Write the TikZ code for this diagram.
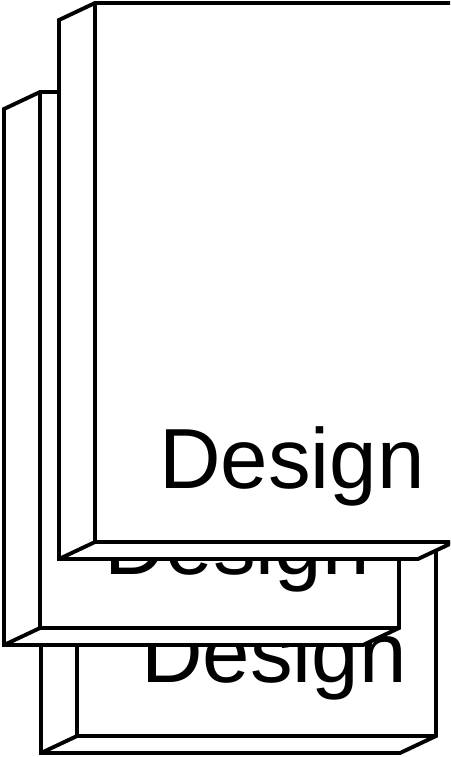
\documentclass[tikz,border=0pt]{standalone}
\usepackage{fontspec}
\setmainfont{Liberation Sans}
\usetikzlibrary{calc}

% one slab: name, left of front face, top, bottom
\newcommand{\designslab}[4]{%
  \filldraw[edge, fill=white] (#2,#3) -- (#2-36,#3+17) -- (#2-36,#4+17)
    -- (#2+323,#4+17) -- (#2+359,#4) -- (#2+359,#3) -- cycle;
  \draw[edge] (#2,#3) -- (#2,#4) -- (#2+359,#4);
  \draw[edge] (#2,#4) -- (#2-36,#4+17);
  \node[slabtext] (#1) at (#2+330,#4-54) {Design};
}

\begin{document}
\begin{tikzpicture}[x=0.75pt, y=-0.75pt,
  edge/.style={line width=2.9pt, line join=miter},
  slabtext/.style={font=\fontsize{64}{64}\selectfont, anchor=base east, inner sep=0pt}]
  \useasboundingbox (0,0) rectangle (450,757);
  \clip (0,0) rectangle (450,757);
  % Back slab
  \designslab{lower}{77}{199}{736}
  % Middle slab
  \designslab{middle}{40}{92}{628}
  % Front slab
  \designslab{upper}{95}{3}{542}
\end{tikzpicture}
\end{document}
